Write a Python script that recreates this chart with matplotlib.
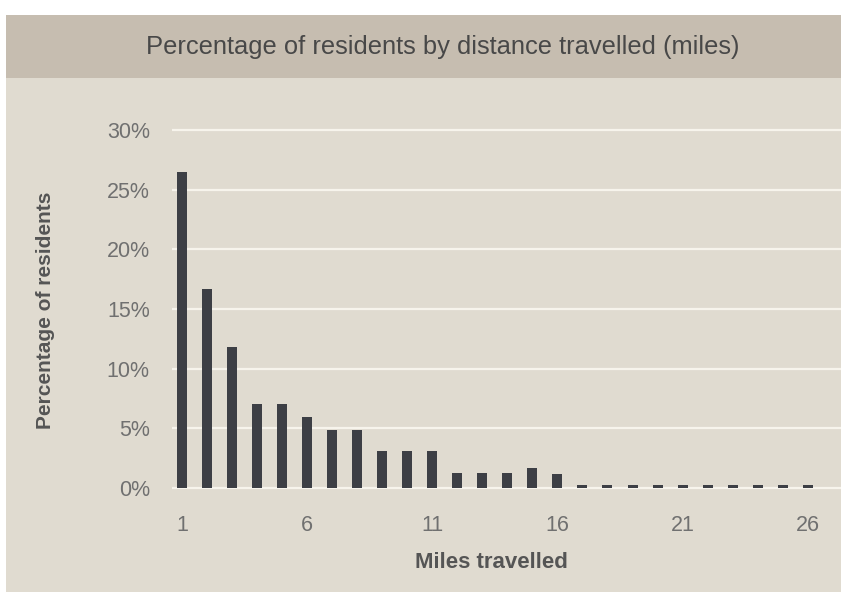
import matplotlib.pyplot as plt
from matplotlib.patches import Rectangle

# data
miles = list(range(1, 27))
percent = [26.5, 16.7, 11.8, 7.0, 7.0, 5.95, 4.85, 4.85, 3.1, 3.1, 3.1,
           1.3, 1.3, 1.3, 1.7, 1.15,
           0.25, 0.25, 0.25, 0.25, 0.25, 0.25, 0.25, 0.25, 0.25, 0.25]
y_ticks = [0, 5, 10, 15, 20, 25, 30]
x_ticks = [1, 6, 11, 16, 21, 26]

title = 'Percentage of residents by distance travelled (miles)'
panel_col = '#e0dbd0'
band_col = '#c6bdb0'
bar_col = '#3d3f45'
grid_col = '#f7f4ec'

plt.rcParams['font.family'] = ['Liberation Sans', 'DejaVu Sans']

W, H = 841, 592
fig = plt.figure(figsize=(W / 100, H / 100), dpi=100)
fig.patch.set_facecolor('white')

# background panel + title band (pixel coords converted to fig fraction)
fig.patches.append(Rectangle((6 / W, 0), 1, (H - 78) / H, transform=fig.transFigure,
                             facecolor=panel_col, edgecolor='none', zorder=-2))
fig.patches.append(Rectangle((6 / W, (H - 78) / H), 1, 63 / H, transform=fig.transFigure,
                             facecolor=band_col, edgecolor='none', zorder=-2))
fig.text(443 / W, 1 - 47 / H, title, ha='center', va='center',
         fontsize=18.4, color='#484848')

ax = fig.add_axes([172 / W, 0.1554, 1 - 172 / W, 0.6453])
ax.set_zorder(2)
ax.set_facecolor('none')
ax.bar(miles, percent, width=0.4, color=bar_col, zorder=3)

ax.set_xlim(0.6, 27.33)
ax.set_ylim(-1, 31)
ax.set_yticks(y_ticks)
ax.set_yticklabels([f'{v}%' for v in y_ticks])
ax.set_xticks(x_ticks)
ax.grid(axis='y', color=grid_col, linewidth=1.6, zorder=1)
ax.grid(axis='x', visible=False)
ax.tick_params(length=0, labelsize=15.5, colors='#707070')
ax.tick_params(axis='y', pad=16)
ax.tick_params(axis='x', pad=11)
for s in ax.spines.values():
    s.set_visible(False)

fig.text(46 / W, 1 - 310 / H, 'Percentage of residents', rotation=90,
         ha='center', va='center', fontsize=15, fontweight='bold', color='#555555')
fig.text(491 / W, 1 - 562 / H, 'Miles travelled', ha='center', va='center',
         fontsize=16, fontweight='bold', color='#555555')

fig.savefig('out.png', dpi=100)
